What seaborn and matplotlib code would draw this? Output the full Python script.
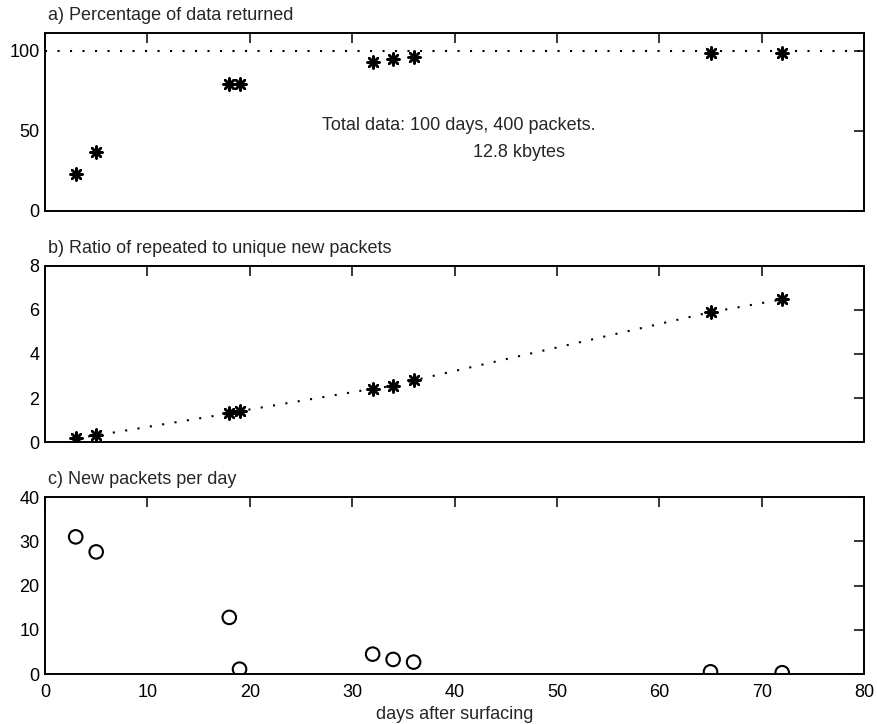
import matplotlib
matplotlib.use("Agg")
import matplotlib.pyplot as plt
import seaborn as sns
import pandas as pd

days = [3, 5, 18, 19, 32, 34, 36, 65, 72]
pct_returned = [23, 37, 79, 79, 93, 94.5, 96, 98.5, 98.5]
ratio_repeated = [0.18, 0.3, 1.3, 1.4, 2.42, 2.55, 2.8, 5.9, 6.48]
new_per_day = [31, 27.6, 12.8, 1.1, 4.5, 3.3, 2.7, 0.5, 0.3]

reference_x = [0, 80]
reference_pct = [100, 100]

titles = ["a) Percentage of data returned",
          "b) Ratio of repeated to unique new packets",
          "c) New packets per day"]
xlabel = "days after surfacing"
annot1 = "Total data: 100 days, 400 packets."
annot2 = "12.8 kbytes"

sns.set_theme(style="white")
plt.rcParams['font.family'] = ['Liberation Sans', 'DejaVu Sans']

df = pd.DataFrame({"day": days, "pct": pct_returned,
                   "ratio": ratio_repeated, "new": new_per_day})

FS = 13
fig = plt.figure(figsize=(8.77, 7.24), dpi=100)
L, W = 0.0513, 0.934
ax1 = fig.add_axes([L, 0.7086, W, 0.2459])
ax2 = fig.add_axes([L, 0.3895, W, 0.2431])
ax3 = fig.add_axes([L, 0.0690, W, 0.2445])

star = (8, 2, 0)

# a)
sns.lineplot(x=reference_x, y=reference_pct, ax=ax1, color="black",
             linestyle=(0, (1, 5)), linewidth=1.5)
sns.scatterplot(data=df, x="day", y="pct", ax=ax1, marker=star, s=75,
                color="black", linewidth=1.8)
ax1.set_ylim(0, 111)
ax1.set_yticks([0, 50, 100])
ax1.text(0.338, 0.478, annot1, transform=ax1.transAxes, fontsize=FS,
         ha="left", va="center")
ax1.text(0.5226, 0.331, annot2, transform=ax1.transAxes, fontsize=FS,
         ha="left", va="center")

# b)
sns.lineplot(data=df, x="day", y="ratio", ax=ax2, color="black",
             linestyle=(0, (1, 5)), linewidth=1.5)
sns.scatterplot(data=df, x="day", y="ratio", ax=ax2, marker=star, s=75,
                color="black", linewidth=1.8)
ax2.set_ylim(0, 8)
ax2.set_yticks([0, 2, 4, 6, 8])

# c)
sns.scatterplot(data=df, x="day", y="new", ax=ax3, marker="o", s=95,
                facecolor="none", edgecolor="black", linewidth=1.5)
ax3.set_ylim(0, 40)
ax3.set_yticks([0, 10, 20, 30, 40])

for i, (ax, t) in enumerate(zip([ax1, ax2, ax3], titles)):
    ax.set_xlim(0, 80)
    ax.set_xticks(range(0, 81, 10))
    ax.set_ylabel("")
    ax.set_xlabel("")
    ax.text(0.004, 1.098, t, transform=ax.transAxes, fontsize=FS,
            ha="left", va="center")
    ax.tick_params(direction="in", top=True, right=True, length=7,
                   width=1.1, labelsize=FS, colors="black", pad=4)
    ax.tick_params(axis="x", pad=7.5)
    for sp in ax.spines.values():
        sp.set_visible(True)
        sp.set_color("black")
        sp.set_linewidth(1.4)
    if i < 2:
        ax.set_xticklabels([])

ax3.set_xlabel(xlabel, fontsize=FS, labelpad=3)

fig.savefig("out.png", dpi=100)
